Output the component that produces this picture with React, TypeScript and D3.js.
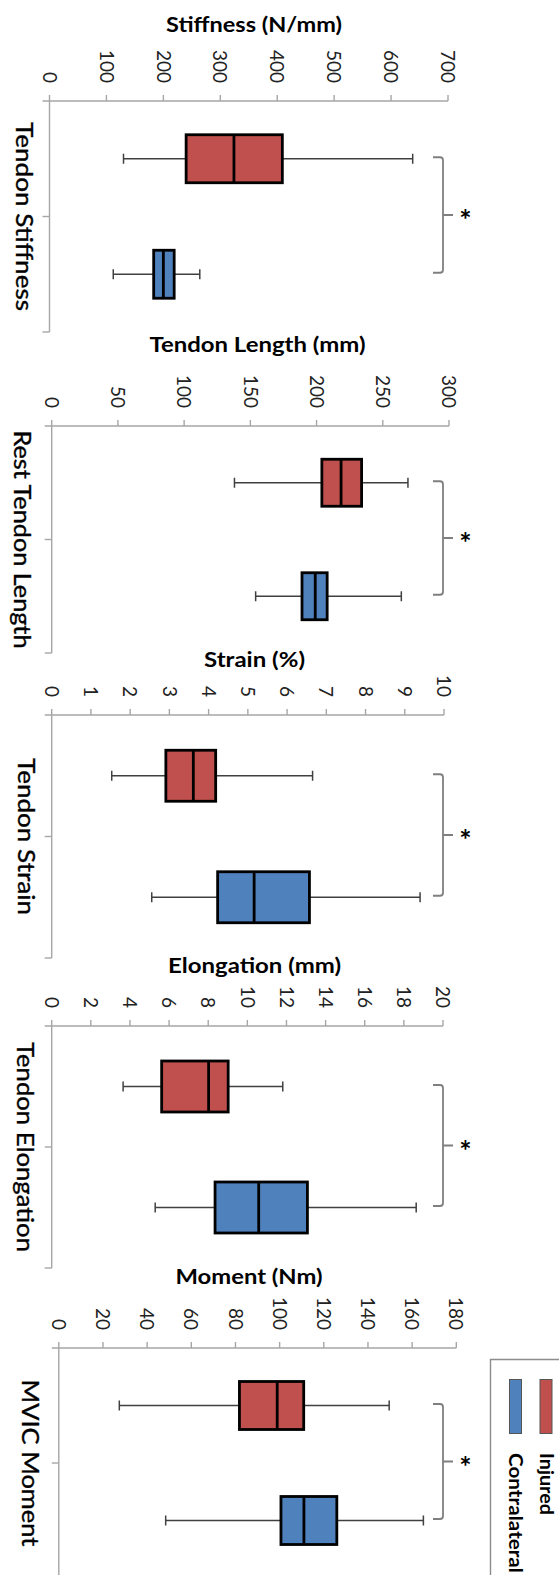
import React from 'react';
import * as d3 from 'd3';

const groups = ['Injured', 'Contralateral'];
const groupColors = ['#C0504D', '#4F81BD'];

// each box: [whisker low, q1, median, q3, whisker high]
const stiffnessInjured = [130, 240, 324, 409, 638];
const stiffnessContra = [112, 183, 200, 219, 264];
const stiffnessTicks = [0, 100, 200, 300, 400, 500, 600, 700];

const lengthInjured = [138, 204, 218.5, 234, 269];
const lengthContra = [154, 189, 199, 208, 264];
const lengthTicks = [0, 50, 100, 150, 200, 250, 300];

const strainInjured = [1.53, 2.91, 3.61, 4.18, 6.65];
const strainContra = [2.55, 4.23, 5.16, 6.57, 9.39];
const strainTicks = [0, 1, 2, 3, 4, 5, 6, 7, 8, 9, 10];

const elongInjured = [3.65, 5.62, 8.02, 9.02, 11.81];
const elongContra = [5.29, 8.35, 10.58, 13.07, 18.63];
const elongTicks = [0, 2, 4, 6, 8, 10, 12, 14, 16, 18, 20];

const momentInjured = [27.4, 81.8, 98.9, 110.9, 149.6];
const momentContra = [48.4, 100.6, 111, 125.9, 165.1];
const momentTicks = [0, 20, 40, 60, 80, 100, 120, 140, 160, 180];

const panels = [
  {
    title: 'Stiffness (N/mm)', label: 'Tendon Stiffness', ticks: stiffnessTicks,
    boxes: [stiffnessInjured, stiffnessContra],
    x0: 49.5, x1: 448, axisY: 101, bottom: 332, boxH: 48,
    titleX: 254, titleY: 31.5, titleW: 176, labelX: 24, labelW: 189,
  },
  {
    title: 'Tendon Length (mm)', label: 'Rest Tendon Length', ticks: lengthTicks,
    boxes: [lengthInjured, lengthContra],
    x0: 51.7, x1: 449, axisY: 426, bottom: 653, boxH: 47,
    titleX: 257.5, titleY: 352, titleW: 216, labelX: 22, labelW: 218,
  },
  {
    title: 'Strain (%)', label: 'Tendon Strain', ticks: strainTicks,
    boxes: [strainInjured, strainContra],
    x0: 51.7, x1: 444, axisY: 715, bottom: 958, boxH: 51,
    titleX: 254.5, titleY: 667, titleW: 101, labelX: 26, labelW: 157,
  },
  {
    title: 'Elongation (mm)', label: 'Tendon Elongation', ticks: elongTicks,
    boxes: [elongInjured, elongContra],
    x0: 51.7, x1: 443, axisY: 1026, bottom: 1268, boxH: 51,
    titleX: 254.5, titleY: 973, titleW: 173, labelX: 25, labelW: 210,
  },
  {
    title: 'Moment (Nm)', label: 'MVIC Moment', ticks: momentTicks,
    boxes: [momentInjured, momentContra],
    x0: 58.8, x1: 456.3, axisY: 1348, bottom: 1578, boxH: 48,
    titleX: 249, titleY: 1284, titleW: 147, labelX: 30, labelW: 167,
  },
];

const font = 'Lato, "Open Sans", sans-serif';
const axisColor = '#a6a6a6';

const Panel: React.FC<{ p: typeof panels[0] }> = ({ p }) => {
  const ticks = p.ticks;
  const x = d3.scaleLinear().domain([ticks[0], ticks[ticks.length - 1]]).range([p.x0, p.x1]);
  const y = d3.scaleBand<string>().domain(groups).range([p.axisY, p.bottom]);
  const centers = groups.map(g => (y(g) as number) + y.bandwidth() / 2);
  const bracketX = 443;
  const bTop = centers[0] - 1.5;
  const bBot = centers[1] - 1.5;
  const bMid = (bTop + bBot) / 2;

  return (
    <g>
      <text x={p.titleX} y={p.titleY} textAnchor="middle" fontFamily={font} fontWeight="bold"
        fontSize={21} fill="#000" textLength={p.titleW} lengthAdjust="spacingAndGlyphs">{p.title}</text>
      {ticks.map(t => (
        <text key={t} transform={`translate(${x(t)},${p.axisY - 18}) rotate(90)`} textAnchor="end"
          dy="0.36em" fontFamily={font} fontSize={19} fill="#222">{t}</text>
      ))}
      <line x1={p.x0 - 7} x2={p.x1} y1={p.axisY} y2={p.axisY} stroke={axisColor} strokeWidth={1.4} />
      {ticks.map(t => (
        <line key={'t' + t} x1={x(t)} x2={x(t)} y1={p.axisY - 6} y2={p.axisY} stroke={axisColor} strokeWidth={1.4} />
      ))}
      <line x1={p.x0} x2={p.x0} y1={p.axisY} y2={p.bottom} stroke={axisColor} strokeWidth={1.4} />
      {[p.axisY + y.bandwidth(), p.bottom].map((v, i) => (
        <line key={'c' + i} x1={p.x0 - 7} x2={p.x0} y1={v} y2={v} stroke={axisColor} strokeWidth={1.4} />
      ))}
      <text transform={`translate(${p.labelX},${p.axisY + y.bandwidth()}) rotate(90)`} textAnchor="middle"
        dy="0.36em" fontFamily={font} fontSize={23} fill="#000" stroke="#000" strokeWidth={0.35}
        textLength={p.labelW} lengthAdjust="spacingAndGlyphs">{p.label}</text>
      {p.boxes.map((b, i) => {
        const cy = centers[i];
        const h = p.boxH;
        return (
          <g key={i}>
            <line x1={x(b[0])} x2={x(b[4])} y1={cy} y2={cy} stroke="#404040" strokeWidth={1.5} />
            <line x1={x(b[0])} x2={x(b[0])} y1={cy - 5} y2={cy + 5} stroke="#404040" strokeWidth={1.5} />
            <line x1={x(b[4])} x2={x(b[4])} y1={cy - 5} y2={cy + 5} stroke="#404040" strokeWidth={1.5} />
            <rect x={x(b[1])} y={cy - h / 2} width={x(b[3]) - x(b[1])} height={h}
              fill={groupColors[i]} stroke="#000" strokeWidth={2.8} />
            <line x1={x(b[2])} x2={x(b[2])} y1={cy - h / 2} y2={cy + h / 2} stroke="#000" strokeWidth={2.8} />
          </g>
        );
      })}
      <path d={`M${bracketX - 10},${bTop} L${bracketX - 3},${bTop} Q${bracketX},${bTop} ${bracketX},${bTop + 3}
        L${bracketX},${bBot - 3} Q${bracketX},${bBot} ${bracketX - 3},${bBot} L${bracketX - 10},${bBot}
        M${bracketX},${bMid} L${bracketX + 10},${bMid}`}
        fill="none" stroke="#7f7f7f" strokeWidth={1.8} />
      <text x={465.5} y={bMid + 15} textAnchor="middle" fontFamily={font} fontWeight="bold"
        fontSize={29} fill="#000">*</text>
    </g>
  );
};

const App: React.FC = () => {
  return (
    <svg width={559} height={1575} style={{ position: 'absolute', left: 0, top: 0, background: '#fff' }}>
      {panels.map((p, i) => <Panel key={i} p={p} />)}
      <g>
        <path d="M559,1359.5 L490.5,1359.5 L490.5,1575" fill="none" stroke="#8c8c8c" strokeWidth={1.4} />
        {groups.map((g, i) => {
          const cx = i === 0 ? 546 : 515.5;
          return (
            <g key={g}>
              <rect x={cx - 6} y={1379.5} width={12} height={54} fill={groupColors[i]} stroke="#555" strokeWidth={1} />
              <text transform={`translate(${cx},1453) rotate(90)`} textAnchor="start" dy="0.36em"
                fontFamily={font} fontWeight="bold" fontSize={18} fill="#000"
                textLength={i === 0 ? 62 : 120} lengthAdjust="spacingAndGlyphs">{g}</text>
            </g>
          );
        })}
      </g>
    </svg>
  );
};

export default App;
